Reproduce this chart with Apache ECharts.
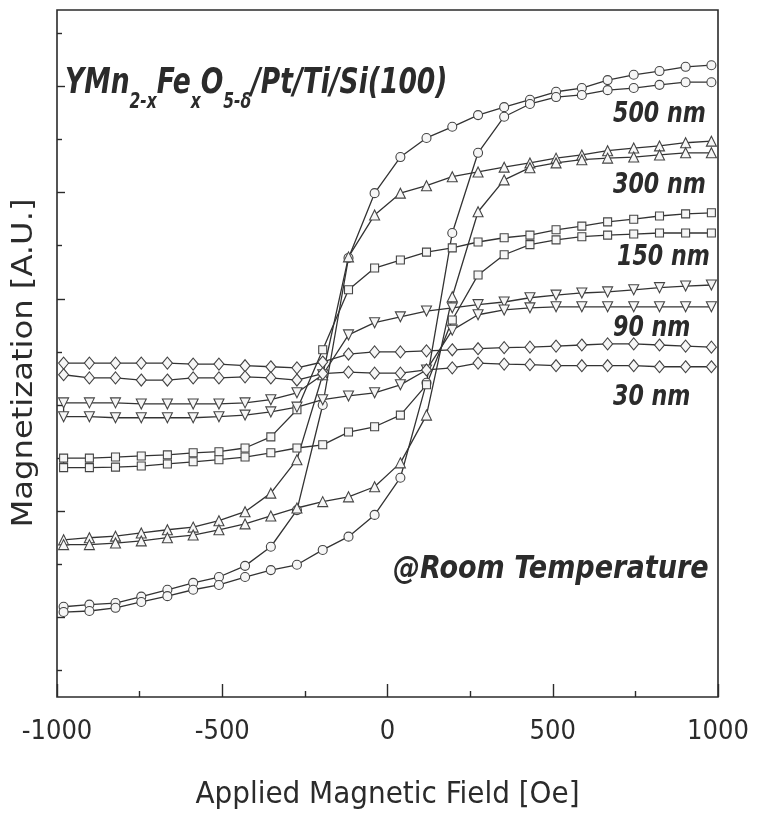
<!DOCTYPE html>
<html><head><meta charset="utf-8">
<script src="https://cdn.jsdelivr.net/npm/echarts@6/dist/echarts.min.js"></script>
<style>html,body{margin:0;padding:0;background:#fff}#c{width:759px;height:828px}</style>
</head><body><div id="c"></div>
<script>
// Applied field steps (Oe), shared by every branch
const fieldOe = [-980,-902,-823,-745,-666,-588,-510,-431,-353,-274,-196,-118,-39,39,118,196,274,353,431,510,588,666,745,823,902,980];

// Magnetization (A.U.), descending-field branch and ascending-field branch, listed by increasing field
const m500Desc = [-4.80,-4.76,-4.73,-4.61,-4.48,-4.35,-4.24,-4.03,-3.67,-2.98,-1.00,1.77,2.99,3.67,4.03,4.24,4.46,4.61,4.75,4.90,4.97,5.12,5.22,5.29,5.37,5.40];
const m500Asc  = [-4.90,-4.88,-4.82,-4.71,-4.60,-4.48,-4.39,-4.24,-4.11,-4.01,-3.73,-3.48,-3.07,-2.37,-0.58,2.24,3.75,4.43,4.67,4.80,4.84,4.93,4.97,5.03,5.08,5.08];
const m300Desc = [-3.54,-3.50,-3.47,-3.41,-3.35,-3.30,-3.18,-3.01,-2.66,-2.03,-0.43,1.79,2.58,2.99,3.13,3.30,3.39,3.48,3.56,3.65,3.71,3.79,3.84,3.88,3.94,3.97];
const m300Asc  = [-3.63,-3.63,-3.60,-3.56,-3.50,-3.45,-3.35,-3.24,-3.09,-2.94,-2.82,-2.73,-2.54,-2.09,-1.19,1.04,2.64,3.24,3.47,3.56,3.62,3.65,3.67,3.71,3.75,3.75];
const m150Desc = [-2.00,-2.00,-1.98,-1.96,-1.94,-1.90,-1.88,-1.81,-1.60,-1.09,0.04,1.17,1.58,1.73,1.88,1.96,2.07,2.15,2.20,2.30,2.37,2.45,2.50,2.56,2.60,2.62];
const m150Asc  = [-2.18,-2.18,-2.17,-2.15,-2.11,-2.07,-2.03,-1.98,-1.90,-1.81,-1.75,-1.51,-1.41,-1.19,-0.62,0.60,1.45,1.83,2.02,2.11,2.17,2.20,2.22,2.24,2.24,2.24];
const m90Desc  = [-0.96,-0.96,-0.96,-0.98,-0.98,-0.98,-0.98,-0.96,-0.90,-0.77,-0.43,0.32,0.55,0.66,0.77,0.83,0.89,0.94,1.02,1.07,1.11,1.13,1.17,1.21,1.24,1.26];
const m90Asc   = [-1.22,-1.22,-1.24,-1.24,-1.24,-1.24,-1.22,-1.19,-1.13,-1.04,-0.90,-0.83,-0.77,-0.62,-0.34,0.41,0.70,0.79,0.83,0.85,0.85,0.85,0.85,0.85,0.85,0.85];
const m30Desc  = [-0.21,-0.21,-0.21,-0.21,-0.21,-0.23,-0.23,-0.26,-0.28,-0.30,-0.19,-0.04,0.00,0.00,0.02,0.04,0.06,0.08,0.09,0.11,0.13,0.15,0.15,0.13,0.11,0.09];
const m30Asc   = [-0.43,-0.49,-0.49,-0.53,-0.53,-0.49,-0.49,-0.47,-0.49,-0.53,-0.41,-0.38,-0.40,-0.40,-0.34,-0.30,-0.21,-0.23,-0.24,-0.26,-0.26,-0.26,-0.26,-0.28,-0.28,-0.28];

const loopNames = ['500 nm','300 nm','150 nm','90 nm','30 nm'];
const xTickValues = [-1000,-500,0,500,1000];
const yMajorTicks = [-5,-3,-1,1,3,5];
const yMinorTicks = [-6,-4,-2,0,2,4,6];

const FONT = "'DejaVu Sans Condensed','Liberation Sans Narrow','DejaVu Sans',sans-serif";
const INK = '#2b2b2b';

function loopData(desc, asc) {
  const d = [];
  for (let i = fieldOe.length - 1; i >= 0; i--) d.push([fieldOe[i], desc[i]]);
  for (let i = 0; i < fieldOe.length; i++) d.push([fieldOe[i], asc[i]]);
  return d;
}
const loops = [
  {name: loopNames[0], desc: m500Desc, asc: m500Asc, symbol: 'circle', size: 9, rot: 0},
  {name: loopNames[1], desc: m300Desc, asc: m300Asc, symbol: 'triangle', size: 10, rot: 0},
  {name: loopNames[2], desc: m150Desc, asc: m150Asc, symbol: 'rect', size: 8, rot: 0},
  {name: loopNames[3], desc: m90Desc,  asc: m90Asc,  symbol: 'triangle', size: 10, rot: 180},
  {name: loopNames[4], desc: m30Desc,  asc: m30Asc,  symbol: 'diamond', size: [10, 12], rot: 0}
];

const chart = echarts.init(document.getElementById('c'), null, {renderer: 'canvas'});
const yBase = {
  type: 'value', min: -6.5, max: 6.44, position: 'left',
  axisLine: {show: false, onZero: false}, axisLabel: {show: false}, splitLine: {show: false}
};
const labelFont = (size) => ({font: 'italic bold ' + size + 'px ' + FONT, fill: INK, verticalAlign: 'middle'});
chart.setOption({
  backgroundColor: '#ffffff',
  animation: false,
  grid: {left: 57, right: 41, top: 10, bottom: 131, show: true, borderColor: INK, borderWidth: 1.6, backgroundColor: 'transparent'},
  xAxis: {
    type: 'value', min: -1000, max: 1000, interval: 500,
    axisLine: {show: false, onZero: false},
    axisTick: {inside: true, length: 13, lineStyle: {color: INK, width: 1.4}},
    minorTick: {show: true, splitNumber: 2, length: 6, lineStyle: {color: INK, width: 1.4}},
    splitLine: {show: false},
    axisLabel: {
      customValues: xTickValues, margin: 21, color: INK, fontSize: 27, fontFamily: FONT,
      formatter: v => String(v)
    },
    name: 'Applied Magnetic Field [Oe]', nameLocation: 'middle', nameGap: 82,
    nameTextStyle: {fontSize: 31, fontFamily: FONT, color: INK}
  },
  yAxis: [
    Object.assign({}, yBase, {
      axisTick: {show: true, inside: true, length: 8, customValues: yMajorTicks, lineStyle: {color: INK, width: 1.4}}
    }),
    Object.assign({}, yBase, {
      axisTick: {show: true, inside: true, length: 5, customValues: yMinorTicks, lineStyle: {color: INK, width: 1.4}}
    })
  ],
  series: loops.map(l => ({
    type: 'line', name: l.name, data: loopData(l.desc, l.asc),
    symbol: l.symbol, symbolSize: l.size, symbolRotate: l.rot, showAllSymbol: true,
    lineStyle: {color: '#333', width: 1.3},
    itemStyle: {color: '#f6f6f6', borderColor: '#444', borderWidth: 1.1},
    emphasis: {disabled: true}
  })),
  graphic: [
    {type: 'text', x: 25, y: 363, rotation: Math.PI / 2, scaleX: 1.15,
      style: {text: 'Magnetization [A.U.]', font: "28px 'DejaVu Sans',sans-serif", fill: INK, align: 'center', verticalAlign: 'middle'}},
    {type: 'text', x: 65, y: 66, scaleX: 0.82, style: {
      text: '{m|YMn}{s|2-x}{m|Fe}{s|x}{m|O}{s|5-δ}{m|/Pt/Ti/Si(100)}',
      rich: {
        m: {fontSize: 36, fontWeight: 'bold', fontStyle: 'italic', fontFamily: FONT, fill: INK, lineHeight: 40, verticalAlign: 'top'},
        s: {fontSize: 21, fontWeight: 'bold', fontStyle: 'italic', fontFamily: FONT, fill: INK, lineHeight: 20, padding: [26, 0, 0, 0], verticalAlign: 'top'}
      }
    }},
    {type: 'text', x: 613, y: 115, scaleX: 0.88, style: labelFont(28)},
    {type: 'text', x: 613, y: 186, scaleX: 0.88, style: labelFont(28)},
    {type: 'text', x: 617, y: 258, scaleX: 0.88, style: labelFont(28)},
    {type: 'text', x: 613, y: 329, scaleX: 0.88, style: labelFont(28)},
    {type: 'text', x: 613, y: 398, scaleX: 0.88, style: labelFont(28)},
    {type: 'text', x: 393, y: 570, scaleX: 0.94, style: {text: '@Room Temperature', font: 'italic bold 32px ' + FONT, fill: INK, verticalAlign: 'middle'}}
  ].map((g, i) => {
    if (i >= 2 && i <= 6) g.style.text = loopNames[i - 2];
    return g;
  })
});
</script></body></html>
